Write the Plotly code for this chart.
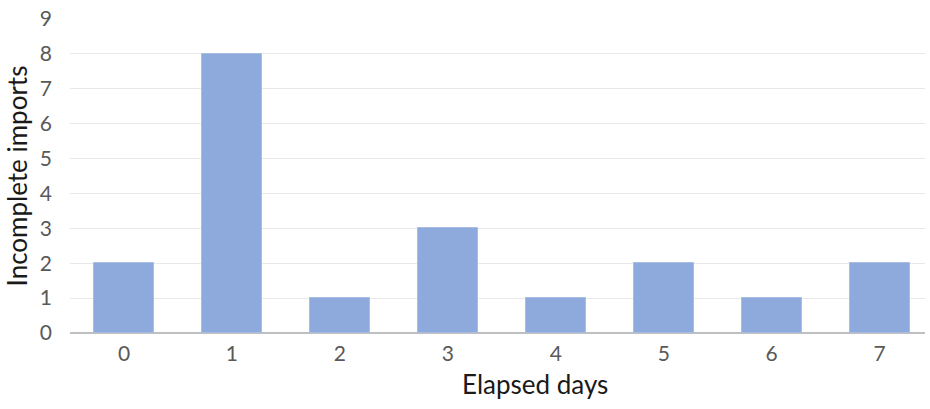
import plotly.graph_objects as go

# Incomplete imports per elapsed day
days = [0, 1, 2, 3, 4, 5, 6, 7]
incomplete = [2, 8, 1, 3, 1, 2, 1, 2]
y_ticks = list(range(0, 10))

fig = go.Figure(
    go.Bar(
        x=days,
        y=incomplete,
        width=0.555,
        marker=dict(color="#8EA9DB", line=dict(color="#A9BDE3", width=1)),
    )
)

fig.update_layout(
    width=930,
    height=409,
    margin=dict(l=70, r=5, t=15, b=76),
    paper_bgcolor="white",
    plot_bgcolor="white",
    font=dict(family="Lato, Open Sans, sans-serif", color="#595959", size=21),
    showlegend=False,
    bargap=0,
)

fig.update_xaxes(
    range=[-0.5, 7.42],
    tickmode="array",
    tickvals=days,
    ticktext=[str(d) for d in days],
    showgrid=False,
    showline=False,
    zeroline=False,
    ticks="",
    ticklabelstandoff=6,
)

# x-axis title, placed slightly right of the plot centre
fig.add_annotation(
    text="Elapsed days",
    xref="paper", yref="paper",
    x=0.544, y=-0.164,
    xanchor="center", yanchor="middle",
    showarrow=False,
    font=dict(size=26, color="#1a1a1a"),
)

fig.update_yaxes(
    range=[0, 9],
    tickmode="array",
    tickvals=y_ticks,
    showgrid=True,
    gridcolor="#E8E8E8",
    gridwidth=1,
    zeroline=True,
    zerolinecolor="#BFBFBF",
    zerolinewidth=2,
    showline=False,
    ticks="",
    ticklabelstandoff=17,
    title=dict(text="Incomplete imports", font=dict(size=26, color="#1a1a1a"), standoff=4),
)

fig.write_html("out.html")
